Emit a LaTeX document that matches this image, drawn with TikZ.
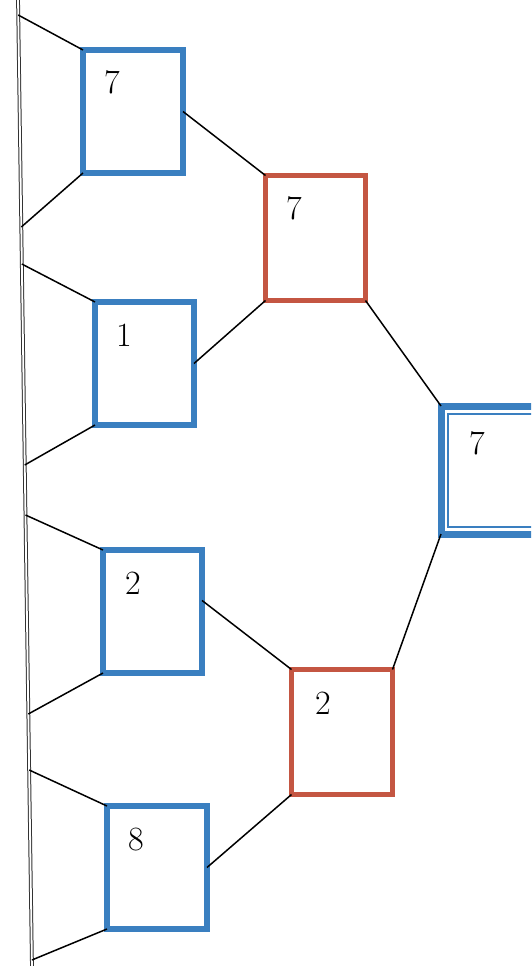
\documentclass[tikz,border=0pt]{standalone}
\usetikzlibrary{calc}
\definecolor{boxblue}{RGB}{58,127,192}
\definecolor{boxred}{RGB}{196,86,66}
\tikzset{
  bluebox/.style={draw=boxblue, line width=6pt, rectangle, inner sep=0pt, outer sep=0pt, minimum width=100pt, minimum height=123pt},
  redbox/.style={draw=boxred, line width=5pt, rectangle, inner sep=0pt, outer sep=0pt, minimum width=100pt, minimum height=125pt},
  num/.style={inner sep=0pt, font=\fontsize{34}{38}\selectfont},
  conn/.style={draw=black, line width=1.5pt},
  spine/.style={draw=black!80, line width=1pt, double=white, double distance=1.8pt}
}
\begin{document}
\begin{tikzpicture}[x=1pt,y=-1pt]
\useasboundingbox (0,0) rectangle (531,966);
\clip (0,0) rectangle (531,966);
\fill[white] (0,0) rectangle (531,966);
% spine
\coordinate (sptop) at (18,-2);
\coordinate (spbot) at (32,968);
\draw[spine] (sptop) -- (spbot);
\coordinate (s1) at (18.2,15);
\coordinate (s2) at (21.3,227);
\coordinate (s3) at (21.8,264);
\coordinate (s4) at (24.7,465);
\coordinate (s5) at (25.5,515);
\coordinate (s6) at (28.3,714);
\coordinate (s7) at (29.2,770);
\coordinate (s8) at (31.9,960);
% boxes
\node[bluebox] (b1) at (133,111.5) {};
\node[bluebox, minimum width=99pt] (b2) at (144.5,363.5) {};
\node[bluebox, minimum width=99pt] (b3) at (152.5,611.5) {};
\node[bluebox] (b4) at (157,867.5) {};
\node[redbox] (r1) at (315.5,238) {};
\node[redbox, minimum width=101pt] (r2) at (342,732) {};
\node[draw=boxblue, line width=7pt, rectangle, inner sep=0pt, outer sep=0pt, minimum width=119pt, minimum height=128pt] (f) at (500.5,470) {};
\node[draw=boxblue, line width=1.6pt, rectangle, inner sep=0pt, outer sep=0pt, minimum width=105pt, minimum height=113pt] (fi) at (500.5,470.5) {};
% labels
\node[num] (t1) at (112,82) {7};
\node[num] (t2) at (124,335) {1};
\node[num] (t3) at (133,583) {2};
\node[num] (t4) at (136,840) {8};
\node[num] (t5) at (294,208) {7};
\node[num] (t6) at (323,703) {2};
\node[num] (t7) at (477,443) {7};
% connectors from spine
\draw[conn] (s1) -- (b1.north west);
\draw[conn] (s2) -- (b1.south west);
\draw[conn] (s3) -- (b2.north west);
\draw[conn] (s4) -- (b2.south west);
\draw[conn] (s5) -- (b3.north west);
\draw[conn] (s6) -- (b3.south west);
\draw[conn] (s7) -- (b4.north west);
\draw[conn] (s8) -- (b4.south west);
% connectors between boxes
\draw[conn] (b1.east) -- (r1.north west);
\draw[conn] (b2.east) -- (r1.south west);
\draw[conn] ($(b3.north east)!0.41!(b3.south east)$) -- (r2.north west);
\draw[conn] (b4.east) -- (r2.south west);
\draw[conn] (r1.south east) -- (f.north west);
\draw[conn] (r2.north east) -- (f.south west);
\end{tikzpicture}
\end{document}
